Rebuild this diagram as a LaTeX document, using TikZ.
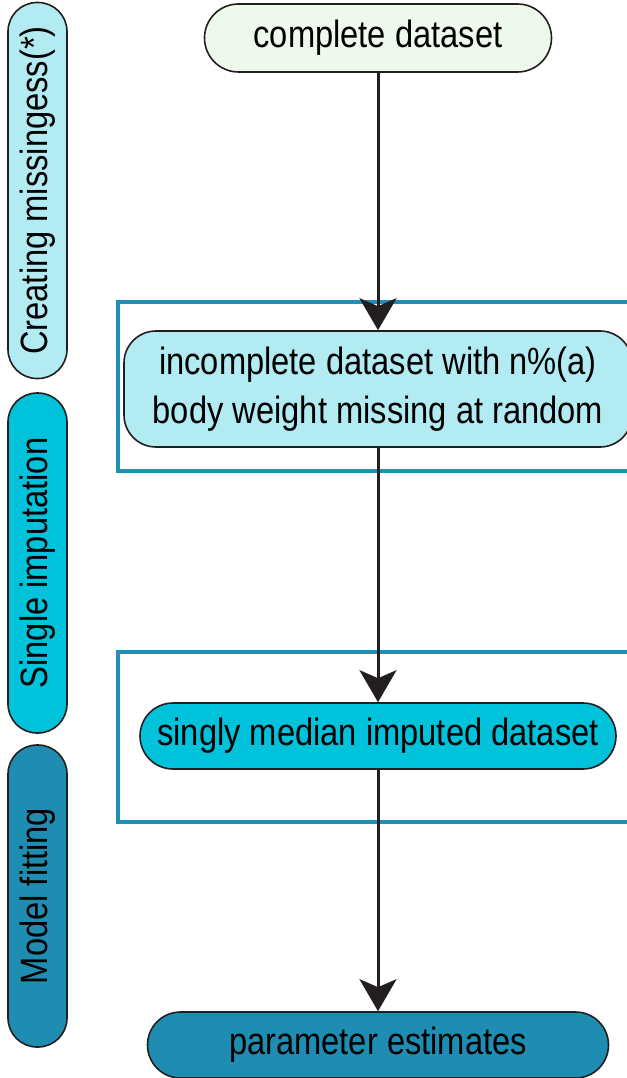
\documentclass[tikz,border=0pt]{standalone}
\usepackage{fontspec}
\setmainfont{Liberation Sans}[FakeStretch=0.86]
\usetikzlibrary{arrows.meta}
\definecolor{vertpale}{HTML}{EEF8EC}
\definecolor{cyanpale}{HTML}{B2EBF2}
\definecolor{cyanvif}{HTML}{00C2DB}
\definecolor{bleufonce}{HTML}{1F8DB1}
\definecolor{bleucadre}{HTML}{1F8FB4}
\definecolor{trait}{HTML}{231F20}

\begin{document}
\begin{tikzpicture}[x=1pt,y=-1pt,
    etape/.style={draw=trait, line width=1.6pt, align=center, inner sep=0pt,
      font=\fontsize{38}{49}\selectfont},
    fleche/.style={draw=trait, line width=3pt,
      -{Stealth[length=32pt,width=37pt,inset=8pt]}},
    cadre/.style={draw=bleucadre, line width=3.5pt}]
    \useasboundingbox (0,0) rectangle (626,1078);

    % Cadres
    \draw[cadre] (118,302) rectangle (660,471);
    \draw[cadre] (118,652) rectangle (660,822);

    % Bandeaux
    \foreach \y/\h/\coul/\nom/\txt in {190.5/376/cyanpale/bande1/Creating missingess(*),
        563/340/cyanvif/bande2/Single imputation, 896/302/bleufonce/bande3/Model fitting}
        \node[etape, fill=\coul, rotate=90, minimum width=\h pt, minimum height=59pt,
          rounded corners=29pt] (\nom) at (37.5,\y) {\txt};

    % Etapes
    \node[etape, fill=vertpale, minimum width=347pt, minimum height=68pt,
      rounded corners=34pt] (complet) at (378,38) {complete dataset};
    \node[etape, fill=cyanpale, minimum width=508pt, minimum height=116pt,
      rounded corners=32pt] (incomplet) at (378,389)
      {incomplete dataset with n\%(a)\\body weight missing at random};
    \node[etape, fill=cyanvif, minimum width=476pt, minimum height=66pt,
      rounded corners=33pt] (impute) at (378,736) {singly median imputed dataset};
    \node[etape, fill=bleufonce, minimum width=461pt, minimum height=66pt,
      rounded corners=33pt] (estim) at (378,1045) {parameter estimates};

    % Fleches
    \draw[fleche] (complet) -- (incomplet);
    \draw[fleche] (incomplet) -- (impute);
    \draw[fleche] (impute) -- (estim);
\end{tikzpicture}
\end{document}
